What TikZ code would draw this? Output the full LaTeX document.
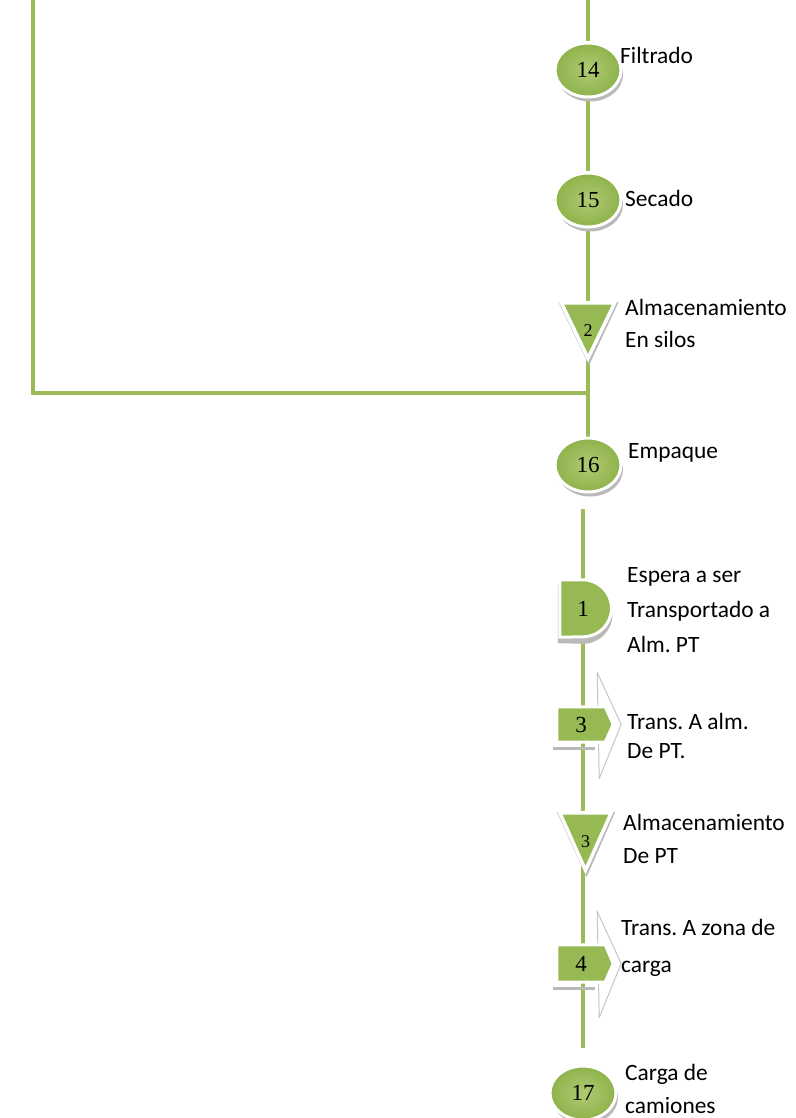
\documentclass[tikz,border=0pt]{standalone}
\usepackage{fontspec}
\setmainfont{Carlito}
\newfontfamily\numfont{Liberation Serif}
\usetikzlibrary{shapes.geometric,calc}
\pgfdeclarelayer{bg}
\pgfsetlayers{bg,main}
\definecolor{lineg}{RGB}{155,187,89}
\definecolor{fillin}{RGB}{174,203,116}
\definecolor{fillout}{RGB}{143,178,74}
\definecolor{bodyg}{RGB}{150,185,84}
\definecolor{shadeg}{RGB}{185,185,185}
% multi-line label, baseline on the first line
\newcommand{\lbltext}[1]{\begin{tabular}[t]{@{}l@{}}#1\end{tabular}}
% triangle (storage) drawn from the anchors of its number node
\newcommand{\storeshape}[1]{%
  \fill[shadeg] ($(#1.north west)+(-3,-1)$) -- ($(#1.north east)+(4,-1)$) -- ($(#1.south)+(1,7)$) -- cycle;
  \filldraw[fill=bodyg, draw=white, line width=3.5pt, line join=miter]
    (#1.north west) -- (#1.north east) -- (#1.south) -- cycle;}
% transport arrow drawn from the anchors of its number node
\newcommand{\moveshape}[1]{%
  \filldraw[fill=white, draw=gray!45, line width=1pt, line join=round]
    ($(#1.east)+(-8,-52)$) -- ($(#1.east)+(16,0)$) -- ($(#1.east)+(-6,54)$) -- cycle;
  \draw[shadeg, line width=3pt] ($(#1.south west)+(-4,6)$) -- ($(#1.south east)+(-10,6)$);
  \filldraw[fill=bodyg, draw=white, line width=3pt, line join=miter]
    (#1.north west) -- (#1.north east) -- ($(#1.east)+(8,0)$) -- (#1.south east) -- (#1.south west) -- cycle;}
\frenchspacing
\begin{document}
\begin{tikzpicture}[x=1pt,y=-1pt,
  conn/.style={draw=lineg, line width=4.5pt},
  opnode/.style={ellipse, minimum width=66pt, minimum height=54pt, inner sep=0pt,
    draw=white, line width=3pt, inner color=fillin, outer color=fillout,
    preaction={fill=shadeg, transform canvas={xshift=2pt, yshift=-4.5pt}},
    font=\numfont\fontsize{23}{23}\selectfont},
  numbox/.style={inner sep=0pt, font=\numfont\fontsize{23}{23}\selectfont},
  lbl/.style={anchor=base west, inner sep=0pt, font=\fontsize{23.4}{33}\selectfont}
]
\useasboundingbox (0,0) rectangle (795,1118);

% operations
\node[opnode] (n14) at (588,70) {14};
\node[opnode] (n15) at (588,200) {15};
\node[opnode] (n16) at (588,465) {16};
\node[opnode] (n17) at (583,1093) {17};

% storage, delay and transport symbols (numbers only; outlines on the bg layer)
\node[numbox, minimum width=53pt, minimum height=55pt, font=\numfont\fontsize{18}{18}\selectfont] (t2) at (588,330.5) {2};
\node[numbox, minimum width=46pt, minimum height=57pt] (d1) at (583,608.5) {1};
\node[numbox, minimum width=48pt, minimum height=35pt] (a3) at (581,724.5) {3};
\node[numbox, minimum width=51pt, minimum height=57pt, font=\numfont\fontsize{18}{18}\selectfont] (t3) at (585.5,841.5) {3};
\node[numbox, minimum width=48pt, minimum height=37pt] (a4) at (581,963.5) {4};

% free ends of the lines
\coordinate (ltop) at (33,-5);
\coordinate (mtop) at (588,-5);
\coordinate (jn) at (588,393);

\begin{pgfonlayer}{bg}
  \draw[conn] (mtop) -- (n14);
  \draw[conn] (n14) -- (n15);
  \draw[conn] (n15) -- (t2);
  \draw[conn] (t2) -- (n16);
  \draw[conn, line join=miter] (ltop) |- (jn);
  \draw[conn] ($(n16.south -| d1)+(0,15)$) -- (d1);
  \draw[conn] (d1) -- (d1 |- a3);
  \draw[conn] (d1 |- a3) -- (d1 |- t3);
  \draw[conn] (d1 |- t3) -- (d1 |- a4);
  \draw[conn] (d1 |- a4) -- ($(n17.north)+(0,-17)$);

  \storeshape{t2}
  \storeshape{t3}
  % delay
  \fill[shadeg] ($(d1.north west)+(-2,5)$) -- ($(d1.north)+(0,5)$)
    arc[start angle=-90, end angle=90, radius=29.5] -- ($(d1.south west)+(-2,6)$) -- cycle;
  \filldraw[fill=bodyg, draw=white, line width=3pt]
    (d1.north west) -- (d1.north) arc[start angle=-90, end angle=90, radius=28.5]
    -- (d1.south west) -- cycle;
  \moveshape{a3}
  \moveshape{a4}
\end{pgfonlayer}

% labels
\node[lbl] (l14) at (620,64) {Filtrado};
\node[lbl] (l15) at (625,207) {Secado};
\node[lbl, font=\fontsize{23.4}{32}\selectfont] (lt2) at (625,315) {\lbltext{Almacenamiento\\En silos}};
\node[lbl] (l16) at (628,458) {Empaque};
\node[lbl, font=\fontsize{23.4}{35}\selectfont] (ld1) at (627,582) {\lbltext{Espera a ser\\Transportado a\\Alm. PT}};
\node[lbl, font=\fontsize{23.4}{29}\selectfont] (la3) at (627,729) {\lbltext{Trans. A alm.\\De PT.}};
\node[lbl] (lt3) at (623,830) {\lbltext{Almacenamiento\\De PT}};
\node[lbl, font=\fontsize{23.4}{37}\selectfont] (la4) at (621,935) {\lbltext{Trans. A zona de\\carga}};
\node[lbl] (l17) at (625,1080) {\lbltext{Carga de\\camiones}};
\end{tikzpicture}
\end{document}
